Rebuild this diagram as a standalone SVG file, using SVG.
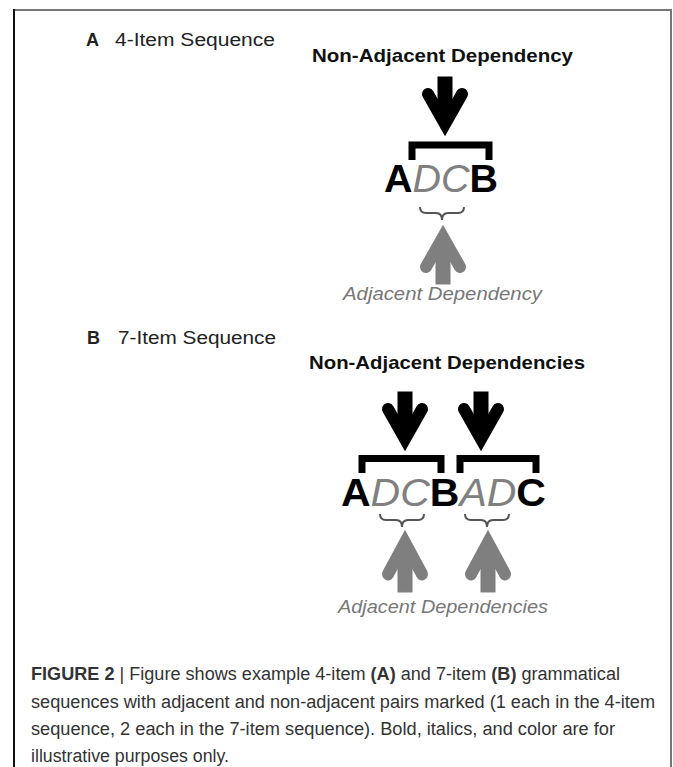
<svg xmlns="http://www.w3.org/2000/svg" width="673" height="767" viewBox="0 0 673 767">
<style>
  text { font-family: "Liberation Sans", Arial, sans-serif; }
  .lbl { font-size: 18px; fill: #222; }
  .b { font-weight: bold; }
  .title { font-size: 19px; font-weight: bold; fill: #111; }
  .seq { font-size: 38px; }
  .strong { font-weight: bold; fill: #000; }
  .weak { font-style: italic; fill: #808080; }
  .adj { font-size: 18px; font-style: italic; fill: #777; }
  .cap { font-size: 18px; fill: #333; }
  .brk { fill: none; stroke: #000; stroke-width: 7; }
  .brace { fill: none; stroke: #555; stroke-width: 2; }
</style>
<defs>
  <g id="arrowDown">
    <rect x="-7" y="-59" width="14" height="42"/>
    <polyline points="-17,-42 0,-12 17,-42" fill="none" stroke-width="12" stroke-linecap="round" stroke-linejoin="miter"/>
  </g>
</defs>
<rect x="0" y="0" width="673" height="767" fill="#fff"/>
<g id="frame">
  <line x1="14" y1="10" x2="671" y2="10" stroke="#777" stroke-width="2"/>
  <line x1="14" y1="9" x2="14" y2="767" stroke="#111" stroke-width="2"/>
  <line x1="671" y1="9" x2="671" y2="767" stroke="#777" stroke-width="2"/>
</g>

<g id="panelA">
  <g id="labelA">
    <text class="lbl b" x="86" y="46">A</text>
    <text class="lbl" x="115" y="46" textLength="160" lengthAdjust="spacingAndGlyphs">4-Item Sequence</text>
  </g>
  <g id="titleA"><text class="title" x="312" y="62" textLength="261" lengthAdjust="spacingAndGlyphs">Non-Adjacent Dependency</text></g>
  <g id="seqA"><text class="seq" x="384" y="192" textLength="114" lengthAdjust="spacingAndGlyphs"><tspan class="strong">A</tspan><tspan class="weak">DC</tspan><tspan class="strong">B</tspan></text></g>
  <g id="adjA"><text class="adj" x="343" y="300" textLength="199" lengthAdjust="spacingAndGlyphs">Adjacent Dependency</text></g>
</g>

<g id="panelB">
  <g id="labelB">
    <text class="lbl b" x="87" y="344">B</text>
    <text class="lbl" x="118" y="344" textLength="158" lengthAdjust="spacingAndGlyphs">7-Item Sequence</text>
  </g>
  <g id="titleB"><text class="title" x="309" y="369" textLength="276" lengthAdjust="spacingAndGlyphs">Non-Adjacent Dependencies</text></g>
  <g id="seqB"><text class="seq" x="341" y="506" textLength="205" lengthAdjust="spacingAndGlyphs"><tspan class="strong">A</tspan><tspan class="weak">DC</tspan><tspan class="strong">B</tspan><tspan class="weak">AD</tspan><tspan class="strong">C</tspan></text></g>
  <g id="adjB"><text class="adj" x="338" y="613" textLength="210" lengthAdjust="spacingAndGlyphs">Adjacent Dependencies</text></g>
</g>

<g id="connectors">
  <use href="#arrowDown" transform="translate(445,136)" fill="#000" stroke="#000"/>
  <path class="brk" d="M412 160 V145 H489 V160"/>
  <path class="brace" d="M420 207 q0 6 6 6 H436 q6 0 6 7 q0 -7 6 -7 H458 q6 0 6 -6"/>
  <use href="#arrowDown" transform="translate(443,225) scale(1,-1)" fill="#7f7f7f" stroke="#7f7f7f"/>

  <use href="#arrowDown" transform="translate(405,451)" fill="#000" stroke="#000"/>
  <use href="#arrowDown" transform="translate(481,451)" fill="#000" stroke="#000"/>
  <path class="brk" d="M362 473 V458.5 H441 V473"/>
  <path class="brk" d="M460 473 V458.5 H536 V473"/>
  <path class="brace" d="M380 514 q0 6 6 6 H396 q6 0 6 7 q0 -7 6 -7 H418 q6 0 6 -6"/>
  <path class="brace" d="M465 514 q0 6 6 6 H481 q6 0 6 7 q0 -7 6 -7 H503 q6 0 6 -6"/>
  <use href="#arrowDown" transform="translate(405,530) scale(1,-1.05)" fill="#7f7f7f" stroke="#7f7f7f"/>
  <use href="#arrowDown" transform="translate(488,530) scale(1,-1.05)" fill="#7f7f7f" stroke="#7f7f7f"/>
</g>

<g id="caption">
  <text class="cap" x="31" y="680" textLength="589" lengthAdjust="spacingAndGlyphs"><tspan class="b">FIGURE 2</tspan> | Figure shows example 4-item <tspan class="b">(A)</tspan> and 7-item <tspan class="b">(B)</tspan> grammatical</text>
  <text class="cap" x="31" y="708" textLength="624" lengthAdjust="spacingAndGlyphs">sequences with adjacent and non-adjacent pairs marked (1 each in the 4-item</text>
  <text class="cap" x="31" y="735" textLength="584" lengthAdjust="spacingAndGlyphs">sequence, 2 each in the 7-item sequence). Bold, italics, and color are for</text>
  <text class="cap" x="31" y="762" textLength="198" lengthAdjust="spacingAndGlyphs">illustrative purposes only.</text>
</g>
</svg>
